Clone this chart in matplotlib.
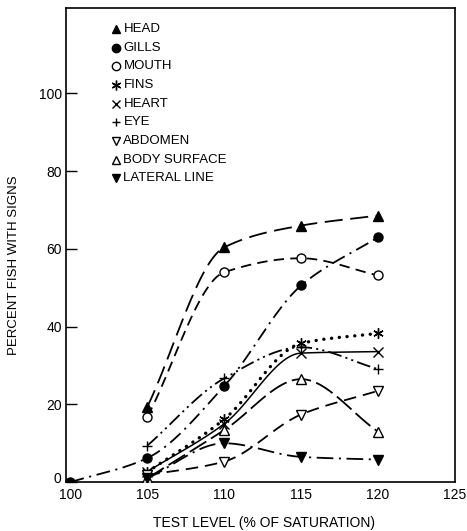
import numpy as np
import matplotlib
matplotlib.use("Agg")
import matplotlib.pyplot as plt
from matplotlib.transforms import ScaledTranslation

# ---------------- data ----------------
levels = [105, 110, 115, 120]
gills_levels = [100, 105, 110, 115, 120]

head = [19.4, 60.4, 66.0, 68.6]
gills = [0.0, 6.2, 24.7, 50.6, 63.0]
mouth = [16.8, 54.0, 57.6, 53.2]
fins = [2.6, 16.2, 35.7, 38.3]
heart = [2.7, 15.0, 33.2, 33.6]
eye = [9.4, 26.7, 34.7, 29.1]
abdomen = [1.8, 5.3, 17.4, 23.5]
body_surface = [1.0, 13.4, 26.5, 13.0]
lateral_line = [1.0, 10.0, 6.5, 5.8]

labels = ["HEAD", "GILLS", "MOUTH", "FINS", "HEART", "EYE",
          "ABDOMEN", "BODY SURFACE", "LATERAL LINE"]
x_ticks = [100, 105, 110, 115, 120, 125]
y_ticks = [0, 20, 40, 60, 80, 100]

plt.rcParams['font.family'] = ['Liberation Sans', 'DejaVu Sans']
plt.rcParams['lines.scale_dashes'] = False


def pchip(xs, ys, n=40):
    x = np.asarray(xs, float)
    y = np.asarray(ys, float)
    h = np.diff(x)
    d = np.diff(y) / h
    m = np.zeros_like(y)
    for k in range(1, len(x) - 1):
        if d[k - 1] * d[k] <= 0:
            m[k] = 0.0
        else:
            w1 = 2 * h[k] + h[k - 1]
            w2 = h[k] + 2 * h[k - 1]
            m[k] = (w1 + w2) / (w1 / d[k - 1] + w2 / d[k])
    m[0] = d[0]
    m[-1] = d[-1]
    ox, oy = [], []
    t = np.linspace(0, 1, n)
    for k in range(len(x) - 1):
        h00 = 2 * t**3 - 3 * t**2 + 1
        h10 = t**3 - 2 * t**2 + t
        h01 = -2 * t**3 + 3 * t**2
        h11 = t**3 - t**2
        ox.extend(x[k] + t * h[k])
        oy.extend(h00 * y[k] + h10 * h[k] * m[k] + h01 * y[k + 1] + h11 * h[k] * m[k + 1])
    return np.array(ox), np.array(oy)


fig = plt.figure(figsize=(4.67, 5.31), dpi=100)
ax = fig.add_axes([0.141, 0.092, 0.833, 0.893])

ast = (6, 2, 0)
series = [
    (levels, head, '^', 'k', (0, (13, 5.5)), 1.3),
    (gills_levels, gills, 'o', 'k', (0, (10, 4, 1.5, 4)), 1.3),
    (levels, mouth, 'o', 'w', (0, (7.5, 4.5)), 1.3),
    (levels, fins, ast, 'k', (0, (0.1, 5.5)), 2.4),
    (levels, heart, 'x', 'k', '-', 1.1),
    (levels, eye, '+', 'k', (0, (10, 3, 1.5, 3, 1.5, 3)), 1.3),
    (levels, abdomen, 'v', 'w', (0, (9, 5)), 1.3),
    (levels, body_surface, '^', 'w', (0, (14, 4)), 1.3),
    (levels, lateral_line, 'v', 'k', (0, (12, 4, 1.5, 4)), 1.3),
]

for xs, ys, mk, fc, ls, lw in series:
    sx, sy = pchip(xs, ys)
    ax.plot(sx, sy, color='k', lw=lw, linestyle=ls,
            dash_capstyle='round' if lw > 2 else 'butt')
    ms = 7.5 if mk == ast else 6.5
    ax.plot(xs, ys, linestyle='none', marker=mk, markersize=ms,
            markerfacecolor=fc, markeredgecolor='k', markeredgewidth=1.0, zorder=3)

# legend drawn as marker + text rows
for i, ((xs, ys, mk, fc, ls, lw), lab) in enumerate(zip(series, labels)):
    yy = 1 - (29 + 18.66 * i - 8) / 474
    ax.plot([0.128], [yy], transform=ax.transAxes, linestyle='none', marker=mk,
            markersize=7 if mk == ast else 6, markerfacecolor=fc, markeredgecolor='k',
            markeredgewidth=1.0, clip_on=False)
    ax.text(0.148, yy, lab, transform=ax.transAxes, fontsize=9.5, va='center', ha='left')

ax.set_xlim(99.7, 125.0)
ax.set_ylim(0, 122)
ax.set_xticks(x_ticks)
ax.set_xticklabels([str(v) for v in x_ticks], fontsize=10)
ax.set_yticks(y_ticks)
ax.set_yticklabels([str(v) for v in y_ticks], fontsize=10)
ax.tick_params(axis='y', direction='in', length=8, width=1, pad=3)
ax.tick_params(axis='x', length=0, pad=4)
for s in ax.spines.values():
    s.set_linewidth(1.2)

# nudge the "0" label up a little so it doesn't collide with "100"
zero = ax.get_yticklabels()[0]
zero.set_transform(zero.get_transform() + ScaledTranslation(0, 3 / 72, fig.dpi_scale_trans))

ax.set_ylabel("PERCENT FISH WITH SIGNS", fontsize=9.5)
ax.yaxis.set_label_coords(-0.118, 0.458)
ax.set_xlabel("TEST LEVEL (% OF SATURATION)", fontsize=10)
ax.xaxis.set_label_coords(0.509, -0.072)

fig.savefig("out.png", dpi=100, facecolor='white')
